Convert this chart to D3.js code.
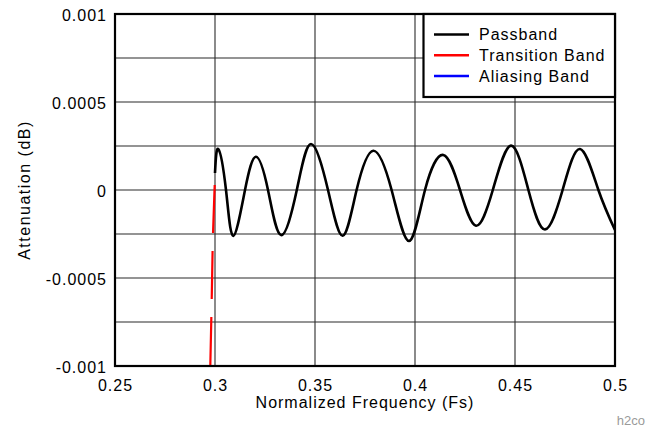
<!DOCTYPE html>
<html>
<head>
<meta charset="utf-8">
<script src="https://cdn.jsdelivr.net/npm/d3@7"></script>
<style>
  html, body { margin: 0; padding: 0; background: #fff; }
  svg { display: block; }
  text { font-family: "Liberation Sans", Arial, sans-serif; fill: #000; }
</style>
</head>
<body>
<svg id="chart" width="651" height="427"></svg>
<script>
// ---- data ----
const passFreq  = [0.3000, 0.30165, 0.3055, 0.30915, 0.3150, 0.3205, 0.3265, 0.3330, 0.3409, 0.3480, 0.3565, 0.36385, 0.3708, 0.37915, 0.3883, 0.3970, 0.4050, 0.41415, 0.4225, 0.4305, 0.4389, 0.4480, 0.4567, 0.4650, 0.4738, 0.4825, 0.4917, 0.5000];
const passAtten = [0.0000966, 0.000233, 0, -0.000261, 0, 0.000189, 0, -0.000256, 0, 0.000261, 0, -0.00026, 0, 0.000223, 0, -0.00029, 0, 0.000199, 0, -0.000203, 0, 0.000252, 0, -0.000224, 0, 0.000233, 0, -0.000227];

const transFreq  = [0.29985, 0.2990, 0.29835, 0.29765];
const transAtten = [0.0000284, -0.00025, -0.000625, -0.001];

const aliasFreq  = [];
const aliasAtten = [];

const xTicks = [0.25, 0.3, 0.35, 0.4, 0.45, 0.5];
const xTickLabels = ["0.25", "0.3", "0.35", "0.4", "0.45", "0.5"];
const yTicks = [0.001, 0.0005, 0, -0.0005, -0.001];
const yTickLabels = ["0.001", "0.0005", "0", "-0.0005", "-0.001"];
const yGrid = [0.00075, 0.0005, 0.00025, 0, -0.00025, -0.0005, -0.00075];

const seriesNames  = ["Passband", "Transition Band", "Aliasing Band"];
const seriesColors = ["#000000", "#ff0000", "#0000ff"];

// ---- layout ----
const svg = d3.select("#chart");
const M = { left: 115, top: 14, right: 36, bottom: 61 };
const W = 651 - M.left - M.right;   // 500
const H = 427 - M.top - M.bottom;   // 352

const x = d3.scaleLinear().domain([0.25, 0.5]).range([M.left, M.left + W]);
const y = d3.scaleLinear().domain([-0.001, 0.001]).range([M.top + H, M.top]);

svg.append("defs").append("clipPath").attr("id", "plotclip")
  .append("rect").attr("x", M.left).attr("y", M.top).attr("width", W).attr("height", H);

// grid
const grid = svg.append("g").attr("stroke", "#2b2b2b").attr("stroke-width", 1.1);
grid.selectAll("line.v").data(xTicks.slice(1, -1)).join("line")
  .attr("x1", d => x(d)).attr("x2", d => x(d))
  .attr("y1", M.top).attr("y2", M.top + H);
grid.selectAll("line.h").data(yGrid).join("line")
  .attr("x1", M.left).attr("x2", M.left + W)
  .attr("y1", d => y(d)).attr("y2", d => y(d));

// axes
const xAxis = d3.axisBottom(x).tickValues(xTicks)
  .tickFormat((d, i) => xTickLabels[i]).tickSize(0).tickPadding(14);
const gx = svg.append("g").attr("transform", `translate(0,${M.top + H})`).call(xAxis);
gx.select(".domain").remove();
gx.selectAll("text").attr("font-size", 16).attr("letter-spacing", "1px")
  .style("font-family", '"Liberation Sans", Arial, sans-serif').attr("fill", "#000");

const yAxis = d3.axisLeft(y).tickValues(yTicks)
  .tickFormat((d, i) => yTickLabels[i]).tickSize(0).tickPadding(8);
const gy = svg.append("g").attr("transform", `translate(${M.left},0)`).call(yAxis);
gy.select(".domain").remove();
gy.selectAll("text").attr("font-size", 16).attr("letter-spacing", "1px")
  .attr("dy", "0.38em")
  .style("font-family", '"Liberation Sans", Arial, sans-serif').attr("fill", "#000");

// data lines
const plot = svg.append("g").attr("clip-path", "url(#plotclip)");
const line = d3.line().x(d => x(d[0])).y(d => y(d[1])).curve(d3.curveNatural);
const lineT = d3.line().x(d => x(d[0])).y(d => y(d[1])).curve(d3.curveMonotoneY);

plot.append("path")
  .datum(transFreq.map((f, i) => [f, transAtten[i]]))
  .attr("d", lineT).attr("fill", "none")
  .attr("stroke", seriesColors[1]).attr("stroke-width", 2.2)
  .attr("stroke-dasharray", "48,18");

plot.append("path")
  .datum(aliasFreq.map((f, i) => [f, aliasAtten[i]]))
  .attr("d", line).attr("fill", "none")
  .attr("stroke", seriesColors[2]).attr("stroke-width", 2.5);

plot.append("path")
  .datum(passFreq.map((f, i) => [f, passAtten[i]]))
  .attr("d", line).attr("fill", "none")
  .attr("stroke", seriesColors[0]).attr("stroke-width", 2.6)
  .attr("stroke-linejoin", "round");

// frame
svg.append("rect").attr("x", M.left).attr("y", M.top).attr("width", W).attr("height", H)
  .attr("fill", "none").attr("stroke", "#000").attr("stroke-width", 2.2);

// legend
const lg = svg.append("g");
lg.append("rect").attr("x", 423.5).attr("y", M.top).attr("width", M.left + W - 423.5).attr("height", 83)
  .attr("fill", "#fff").attr("stroke", "#000").attr("stroke-width", 2.2);
seriesNames.forEach((name, i) => {
  const ly = 34.5 + i * 20.7;
  lg.append("line").attr("x1", 434).attr("x2", 469).attr("y1", ly).attr("y2", ly)
    .attr("stroke", seriesColors[i]).attr("stroke-width", 2.5);
  lg.append("text").attr("x", 479).attr("y", ly + 5.8)
    .attr("font-size", 16).attr("letter-spacing", "1px").text(name);
});

// axis titles
svg.append("text").attr("x", M.left + W / 2).attr("y", 408)
  .attr("text-anchor", "middle").attr("font-size", 16).attr("letter-spacing", "1px")
  .text("Normalized Frequency (Fs)");
svg.append("text").attr("transform", `translate(30,${M.top + H / 2}) rotate(-90)`)
  .attr("text-anchor", "middle").attr("font-size", 16).attr("letter-spacing", "1.5px")
  .text("Attenuation (dB)");

// watermark
svg.append("text").attr("x", 645).attr("y", 425).attr("text-anchor", "end")
  .attr("font-size", 13).style("fill", "#9a9a9a").text("h2co");
</script>
</body>
</html>
